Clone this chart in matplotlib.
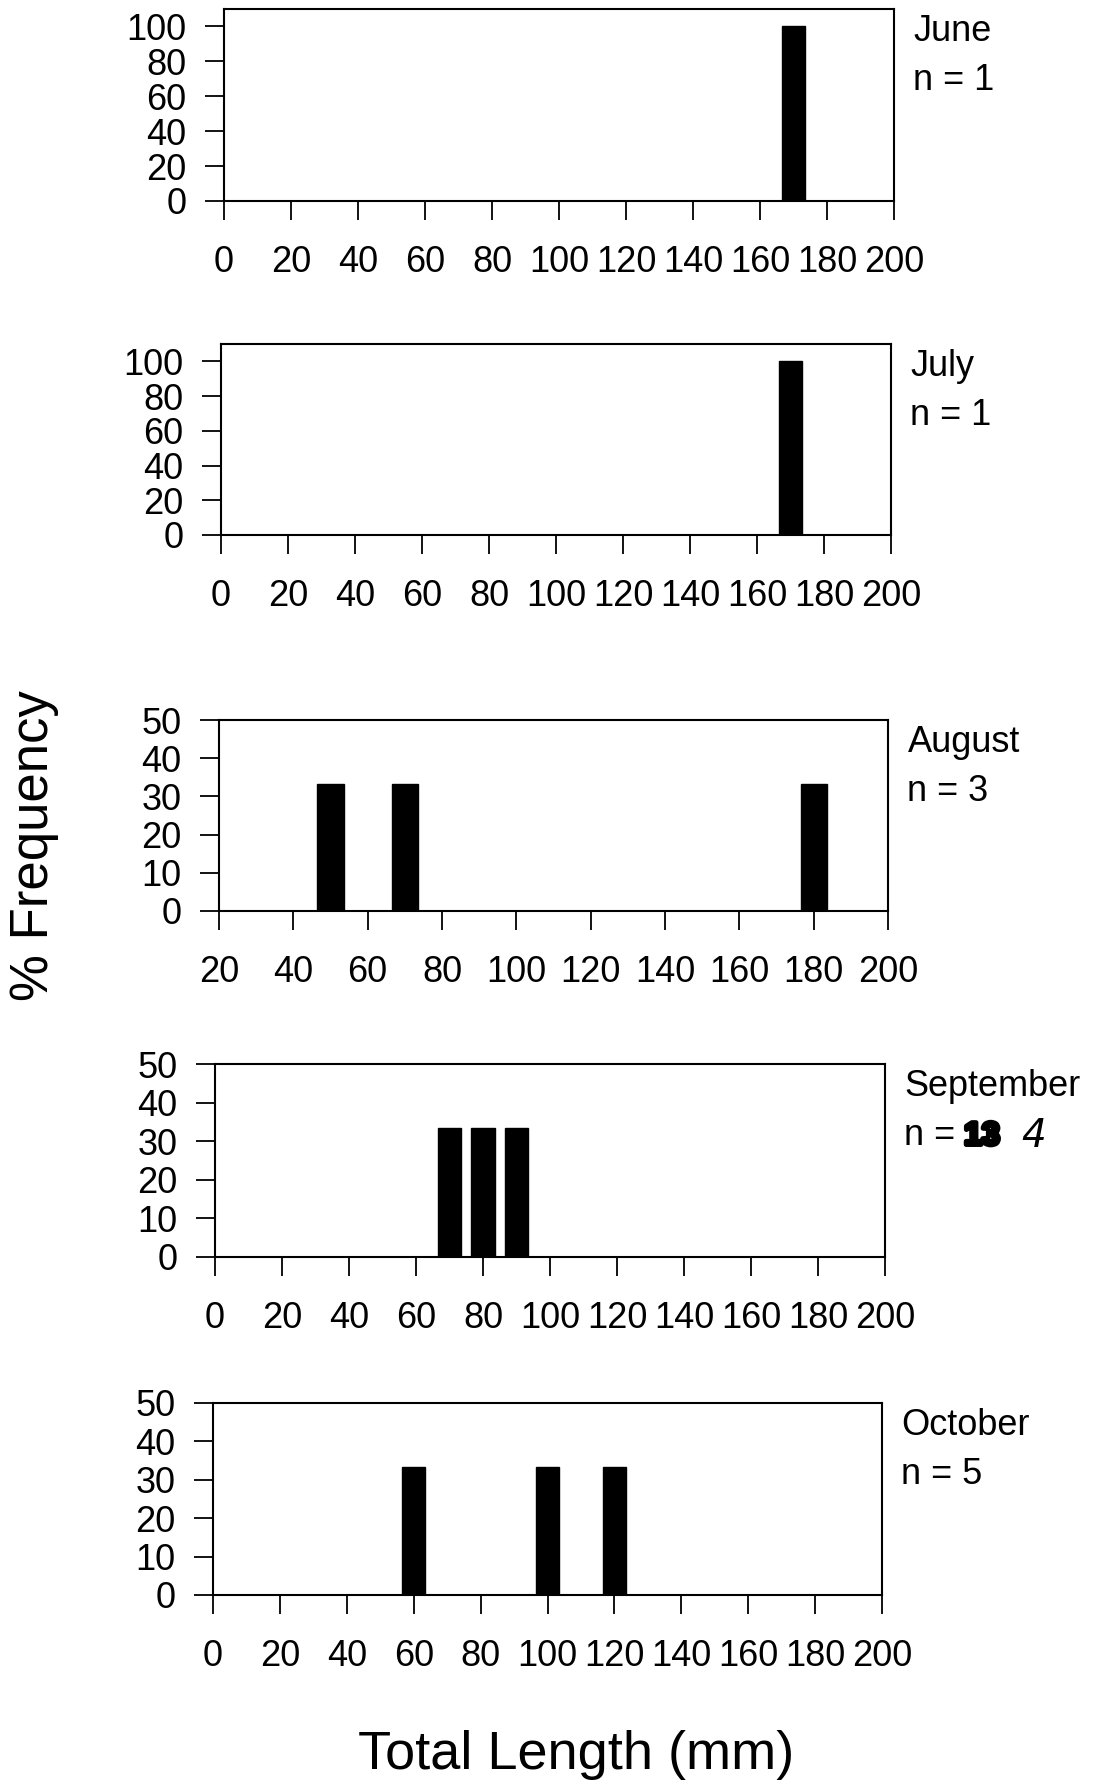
import numpy as np
import matplotlib
matplotlib.use('Agg')
import matplotlib.pyplot as plt
import matplotlib.patheffects as pe

plt.rcParams['font.family'] = ['Liberation Sans', 'DejaVu Sans']

# data
months = ['June', 'July', 'August', 'September', 'October']
n_text = ['n = 1', 'n = 1', 'n = 3', 'n = ', 'n = 5']

june_len = [170]
june_pct = [100]
july_len = [170]
july_pct = [100]
aug_len = [50, 70, 180]
aug_pct = [33.3, 33.3, 33.3]
sep_len = [70, 80, 90]
sep_pct = [33.3, 33.3, 33.3]
oct_len = [60, 100, 120]
oct_pct = [33.3, 33.3, 33.3]

lengths = [june_len, july_len, aug_len, sep_len, oct_len]
pcts = [june_pct, july_pct, aug_pct, sep_pct, oct_pct]

xticks_full = [0, 20, 40, 60, 80, 100, 120, 140, 160, 180, 200]
xticks_aug = [20, 40, 60, 80, 100, 120, 140, 160, 180, 200]
yticks_100 = [0, 20, 40, 60, 80, 100]
yticks_50 = [0, 10, 20, 30, 40, 50]

xlims = [(0, 200), (0, 200), (20, 200), (0, 200), (0, 200)]
ylims = [(0, 110), (0, 110), (0, 50), (0, 50), (0, 50)]
xticks = [xticks_full, xticks_full, xticks_aug, xticks_full, xticks_full]
yticks = [yticks_100, yticks_100, yticks_50, yticks_50, yticks_50]

# panel boxes in pixels: left, right, top, bottom
boxes = [(224, 894, 9, 201),
         (221, 891, 344, 535),
         (219, 888, 720, 911),
         (215, 885, 1064, 1257),
         (213, 882, 1403, 1595)]

W, H = 1093, 1786
fig = plt.figure(figsize=(W / 100, H / 100), dpi=100)

for i in range(5):
    l, r, t, b = boxes[i]
    ax = fig.add_axes([l / W, 1 - b / H, (r - l) / W, (b - t) / H])
    ax.bar(lengths[i], pcts[i], width=7, color='black', edgecolor='black')
    ax.set_xlim(*xlims[i])
    ax.set_ylim(*ylims[i])
    ax.set_xticks(xticks[i])
    ax.set_yticks(yticks[i])
    ax.tick_params(axis='x', direction='out', length=13.5, width=1.3, pad=18, labelsize=26)
    ax.tick_params(axis='y', direction='out', length=14, width=1.3, pad=13, labelsize=26)
    for s in ax.spines.values():
        s.set_linewidth(1.5)

    ax.annotate(months[i], xy=(1, 1), xycoords='axes fraction',
                xytext=(14, -23), textcoords='offset points',
                ha='left', va='baseline', fontsize=26)
    ax.annotate(n_text[i], xy=(1, 1), xycoords='axes fraction',
                xytext=(14, -58), textcoords='offset points',
                ha='left', va='baseline', fontsize=26)
    if months[i] == 'September':
        # scribbled-out "13" and the handwritten correction
        ax.annotate('13', xy=(1, 1), xycoords='axes fraction',
                    xytext=(57, -58), textcoords='offset points',
                    ha='left', va='baseline', fontsize=23, fontweight='bold',
                    path_effects=[pe.withStroke(linewidth=3.5, foreground='black')])
        ax.annotate('4', xy=(1, 1), xycoords='axes fraction',
                    xytext=(98, -60), textcoords='offset points',
                    ha='left', va='baseline', fontsize=28, fontstyle='italic',
                    fontweight='light', family='DejaVu Sans')

fig.text(34 / W, 1 - 846 / H, '% Frequency', rotation=90, ha='center', va='center', fontsize=38)
fig.text(576 / W, 1 - 1755 / H, 'Total Length (mm)', ha='center', va='center', fontsize=39)

fig.savefig('out.png', dpi=100)
